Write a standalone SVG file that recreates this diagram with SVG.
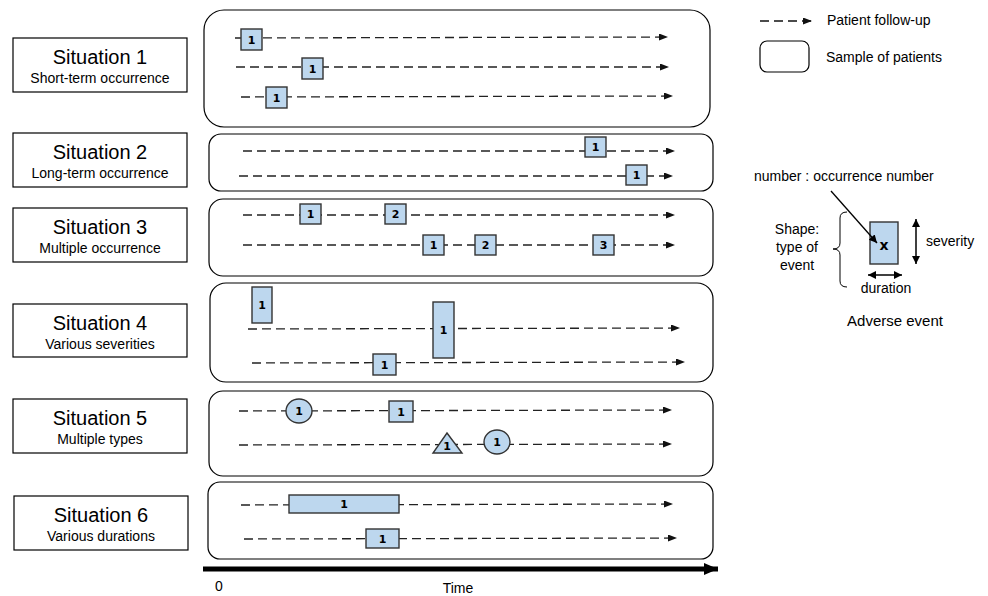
<svg xmlns="http://www.w3.org/2000/svg" width="988" height="596" viewBox="0 0 988 596">
<style>
.sit{fill:#fff;stroke:#000;stroke-width:1.2}
.panel{fill:#fff;stroke:#000;stroke-width:1.2}
.t1{font-family:"Liberation Sans",Arial,sans-serif;font-size:20px;fill:#000;text-anchor:middle}
.t2{font-family:"Liberation Sans",Arial,sans-serif;font-size:14px;fill:#000;text-anchor:middle}
.lg{font-family:"Liberation Sans",Arial,sans-serif;font-size:14px;fill:#000}
.fu{stroke:#222;stroke-width:1.3;stroke-dasharray:9 5;fill:none;marker-end:url(#ah)}
.ev{fill:#bdd7ee;stroke:#333;stroke-width:1.4}
.num{font-family:"DejaVu Sans",Verdana,sans-serif;font-size:11px;font-weight:bold;fill:#000;text-anchor:middle}
</style>
<defs>
<marker id="ah" markerUnits="userSpaceOnUse" markerWidth="10" markerHeight="8" refX="9" refY="3.5" orient="auto">
<path d="M0,0 L9,3.5 L0,7 z" fill="#111"/>
</marker>
<marker id="ahs" markerUnits="userSpaceOnUse" markerWidth="10" markerHeight="10" refX="8" refY="4" orient="auto-start-reverse">
<path d="M0,0 L8,4 L0,8 z" fill="#000"/>
</marker>
<marker id="big" markerUnits="userSpaceOnUse" markerWidth="16" markerHeight="14" refX="14" refY="6" orient="auto">
<path d="M0,0 L14,6 L0,12 z" fill="#000"/>
</marker>
</defs>

<!-- Situation labels -->
<g id="sit1"><rect class="sit" x="13" y="38" width="174" height="54"/><text class="t1" x="100" y="64">Situation 1</text><text class="t2" x="100" y="83">Short-term occurrence</text></g>
<g id="sit2"><rect class="sit" x="13" y="133" width="174" height="54"/><text class="t1" x="100" y="159">Situation 2</text><text class="t2" x="100" y="178">Long-term occurrence</text></g>
<g id="sit3"><rect class="sit" x="13" y="208" width="174" height="54"/><text class="t1" x="100" y="234">Situation 3</text><text class="t2" x="100" y="253">Multiple occurrence</text></g>
<g id="sit4"><rect class="sit" x="13" y="304" width="174" height="53"/><text class="t1" x="100" y="330">Situation 4</text><text class="t2" x="100" y="349">Various severities</text></g>
<g id="sit5"><rect class="sit" x="13" y="399" width="174" height="54"/><text class="t1" x="100" y="425">Situation 5</text><text class="t2" x="100" y="444">Multiple types</text></g>
<g id="sit6"><rect class="sit" x="14" y="496" width="174" height="54"/><text class="t1" x="101" y="522">Situation 6</text><text class="t2" x="101" y="541">Various durations</text></g>

<!-- Panels -->
<g id="panel1"><rect class="panel" x="204" y="10" width="506" height="117" rx="20"/></g>
<g id="panel2"><rect class="panel" x="209" y="134" width="504" height="57" rx="12"/></g>
<g id="panel3"><rect class="panel" x="209" y="199" width="504" height="77" rx="14"/></g>
<g id="panel4"><rect class="panel" x="210" y="283" width="503" height="99" rx="16"/></g>
<g id="panel5"><rect class="panel" x="209" y="391" width="504" height="85" rx="14"/></g>
<g id="panel6"><rect class="panel" x="208" y="482" width="505" height="77" rx="12"/></g>

<!-- Connectors: follow-up lines -->
<g id="connectors">
<line class="fu" x1="235" y1="38" x2="668" y2="37"/>
<line class="fu" x1="236" y1="67" x2="669" y2="67"/>
<line class="fu" x1="241" y1="97" x2="673" y2="96"/>
<line class="fu" x1="243" y1="151" x2="675" y2="151"/>
<line class="fu" x1="239" y1="176" x2="673" y2="176"/>
<line class="fu" x1="243" y1="215" x2="675" y2="215"/>
<line class="fu" x1="243" y1="245" x2="675" y2="245"/>
<line class="fu" x1="248" y1="329" x2="680" y2="328"/>
<line class="fu" x1="252" y1="363" x2="685" y2="362"/>
<line class="fu" x1="239" y1="411" x2="672" y2="410"/>
<line class="fu" x1="239" y1="445" x2="672" y2="444"/>
<line class="fu" x1="241" y1="505" x2="673" y2="504"/>
<line class="fu" x1="244" y1="539" x2="677" y2="538"/>
<line x1="203" y1="569" x2="718" y2="569" stroke="#000" stroke-width="5" marker-end="url(#big)"/>
</g>

<!-- Events -->
<g id="ev1a"><rect class="ev" x="241" y="29" width="21" height="21"/><text class="num" x="251.5" y="43.5">1</text></g>
<g id="ev1b"><rect class="ev" x="302" y="58" width="21" height="21"/><text class="num" x="312.5" y="72.5">1</text></g>
<g id="ev1c"><rect class="ev" x="266" y="87" width="21" height="21"/><text class="num" x="276.5" y="101.5">1</text></g>

<g id="ev2a"><rect class="ev" x="585" y="137" width="21" height="20"/><text class="num" x="595.5" y="151">1</text></g>
<g id="ev2b"><rect class="ev" x="626" y="165" width="21" height="20"/><text class="num" x="636.5" y="179">1</text></g>

<g id="ev3a"><rect class="ev" x="300" y="204" width="21" height="20"/><text class="num" x="310.5" y="218">1</text></g>
<g id="ev3b"><rect class="ev" x="385" y="204" width="21" height="20"/><text class="num" x="395.5" y="218">2</text></g>
<g id="ev3c"><rect class="ev" x="423" y="235" width="21" height="20"/><text class="num" x="433.5" y="249">1</text></g>
<g id="ev3d"><rect class="ev" x="475" y="235" width="21" height="20"/><text class="num" x="485.5" y="249">2</text></g>
<g id="ev3e"><rect class="ev" x="593" y="235" width="21" height="20"/><text class="num" x="603.5" y="249">3</text></g>

<g id="ev4a"><rect class="ev" x="252" y="287" width="20" height="36"/><text class="num" x="262" y="309">1</text></g>
<g id="ev4b"><rect class="ev" x="433" y="302" width="21" height="56"/><text class="num" x="443.5" y="334">1</text></g>
<g id="ev4c"><rect class="ev" x="373" y="354" width="23" height="21"/><text class="num" x="384.5" y="368.5">1</text></g>

<g id="ev5a"><ellipse class="ev" cx="299" cy="411" rx="13" ry="12"/><text class="num" x="299" y="415">1</text></g>
<g id="ev5b"><rect class="ev" x="389" y="401" width="24" height="21"/><text class="num" x="401" y="415.5">1</text></g>
<g id="ev5c"><path class="ev" d="M447,433 L462,453 L433,453 z"/><text class="num" x="447" y="450">1</text></g>
<g id="ev5d"><ellipse class="ev" cx="497" cy="442" rx="13" ry="12"/><text class="num" x="497" y="446">1</text></g>

<g id="ev6a"><rect class="ev" x="289" y="495" width="110" height="18"/><text class="num" x="344" y="508">1</text></g>
<g id="ev6b"><rect class="ev" x="366" y="529" width="33" height="19"/><text class="num" x="382.5" y="542.5">1</text></g>

<!-- Axis labels -->
<text class="lg" x="215" y="591">0</text>
<text class="lg" x="458" y="593" text-anchor="middle">Time</text>

<!-- Legend -->
<g id="legend-followup">
<line x1="760" y1="21" x2="812" y2="21" stroke="#111" stroke-width="1.5" stroke-dasharray="9 5" marker-end="url(#ah)"/>
<text class="lg" x="827" y="25">Patient follow-up</text>
</g>
<g id="legend-sample">
<rect x="760" y="41" width="49" height="31" rx="7" fill="#fff" stroke="#000" stroke-width="1.2"/>
<text class="lg" x="826" y="62">Sample of patients</text>
</g>
<g id="legend-event">
<text class="lg" x="754" y="181">number : occurrence number</text>
<rect class="ev" x="870" y="222" width="28" height="42"/>
<text x="884" y="250" font-family="'DejaVu Sans',Verdana,sans-serif" font-size="14" font-weight="bold" text-anchor="middle">x</text>
<line x1="831" y1="191" x2="877" y2="243" stroke="#000" stroke-width="1.3" marker-end="url(#ahs)"/>
<line x1="916" y1="219" x2="916" y2="264" stroke="#000" stroke-width="1.5" marker-start="url(#ahs)" marker-end="url(#ahs)"/>
<text class="lg" x="926" y="246">severity</text>
<line x1="868" y1="275" x2="902" y2="275" stroke="#000" stroke-width="1.5" marker-start="url(#ahs)" marker-end="url(#ahs)"/>
<text class="lg" x="886" y="293" text-anchor="middle">duration</text>
<path d="M847,212 Q840,212 840,218 L840,243 Q840,249 833,249 Q840,249 840,255 L840,281 Q840,287 847,287" fill="none" stroke="#000" stroke-width="1"/>
<text class="lg" x="797" y="234" text-anchor="middle">Shape:</text>
<text class="lg" x="797" y="252" text-anchor="middle">type of</text>
<text class="lg" x="797" y="270" text-anchor="middle">event</text>
<text x="895" y="326" font-family="'Liberation Sans',Arial,sans-serif" font-size="15" text-anchor="middle">Adverse event</text>
</g>
</svg>
